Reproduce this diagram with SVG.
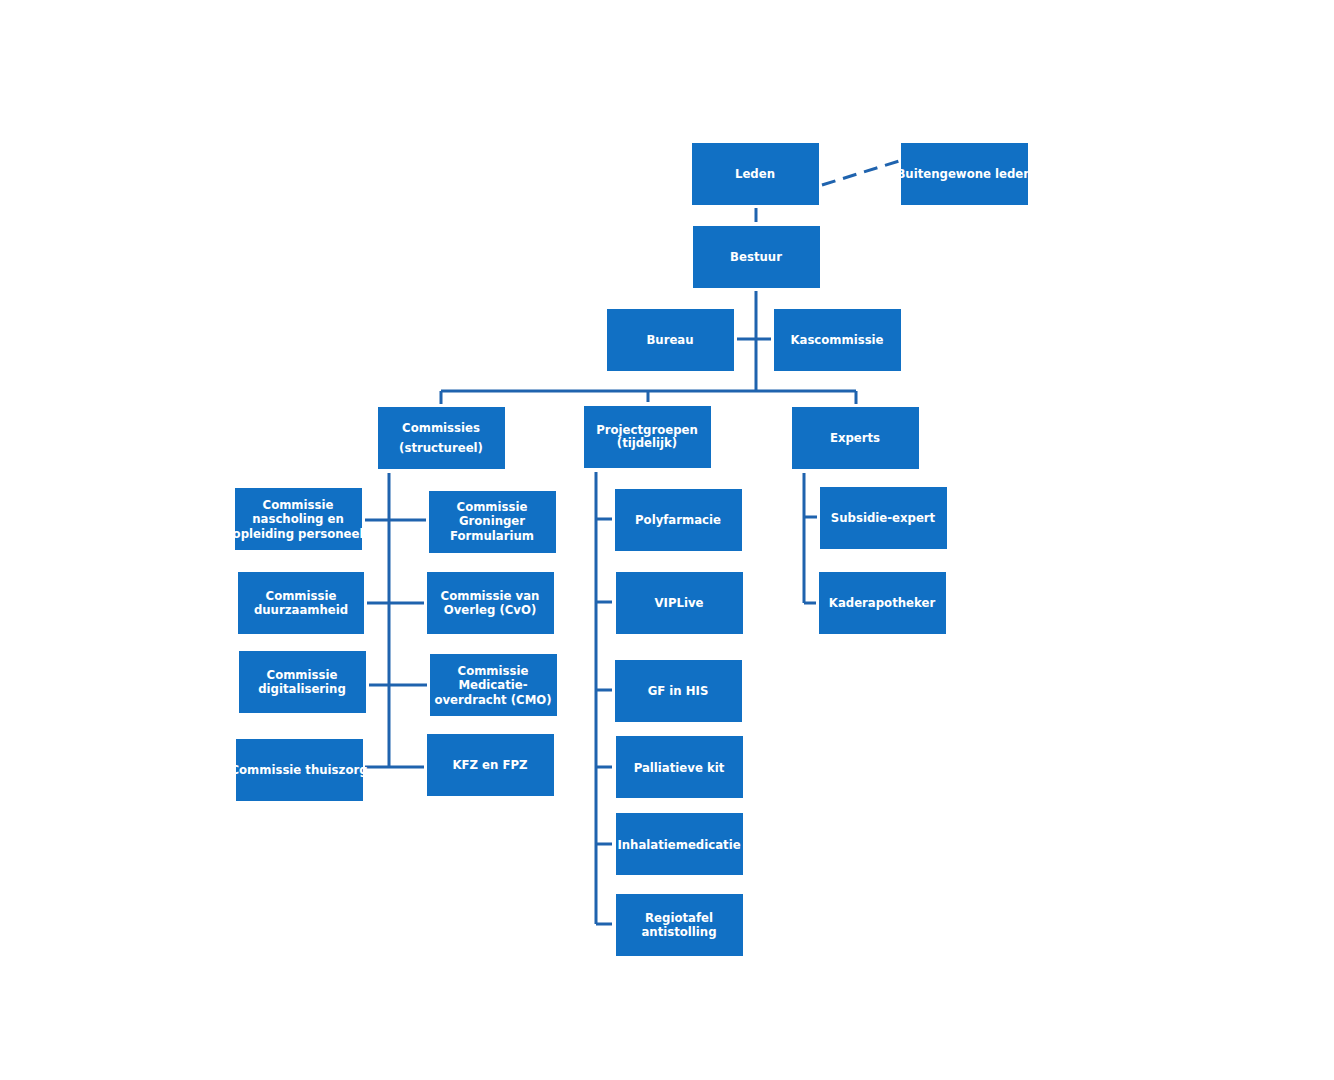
<svg xmlns="http://www.w3.org/2000/svg" width="1334" height="1080" viewBox="0 0 1334 1080">
<style>
.b{fill:#1170C4}
text{font-family:"DejaVu Sans Condensed","Liberation Sans",sans-serif;font-weight:bold;font-size:13px;fill:#fff;text-anchor:middle}
.c{stroke:#1F63AE;stroke-width:3;fill:none}
</style>
<rect width="1334" height="1080" fill="#fff"/>
<g id="connectors" class="c">
<path d="M756 208V222"/>
<path d="M822 185L899 161" stroke-dasharray="14 8"/>
<path d="M756 291V391M737 339H771M441 391H856M441 391V404M648 391V402M856 391V404"/>
<path d="M389 473V767M365 520H426M367 603H424M369 685H427M365 767H424"/>
<path d="M596 472V924M596 519H612M596 602H612M596 690H612M596 767H612M596 844H612M596 924H612"/>
<path d="M804 473V603M804 517H817M804 603H816"/>
</g>
<g id="leden"><rect class="b" x="692" y="143" width="127" height="62"/><text x="755" y="178">Leden</text></g>
<g id="buitengewone"><rect class="b" x="901" y="143" width="127" height="62"/><text x="964" y="178">Buitengewone leden</text></g>
<g id="bestuur"><rect class="b" x="693" y="226" width="127" height="62"/><text x="756" y="261">Bestuur</text></g>
<g id="bureau"><rect class="b" x="607" y="309" width="127" height="62"/><text x="670" y="344">Bureau</text></g>
<g id="kascommissie"><rect class="b" x="774" y="309" width="127" height="62"/><text x="837" y="344">Kascommissie</text></g>
<g id="commissies"><rect class="b" x="378" y="407" width="127" height="62"/><text x="441" y="432">Commissies</text><text x="441" y="452">(structureel)</text></g>
<g id="projectgroepen"><rect class="b" x="584" y="406" width="127" height="62"/><text x="647" y="434">Projectgroepen</text><text x="647" y="447">(tijdelijk)</text></g>
<g id="experts"><rect class="b" x="792" y="407" width="127" height="62"/><text x="855" y="442">Experts</text></g>
<g id="nascholing"><rect class="b" x="235" y="488" width="127" height="62"/><text x="298" y="509">Commissie</text><text x="298" y="523">nascholing en</text><text x="298" y="538">opleiding personeel</text></g>
<g id="duurzaamheid"><rect class="b" x="238" y="572" width="126" height="62"/><text x="301" y="600">Commissie</text><text x="301" y="614">duurzaamheid</text></g>
<g id="digitalisering"><rect class="b" x="239" y="651" width="127" height="62"/><text x="302" y="679">Commissie</text><text x="302" y="693">digitalisering</text></g>
<g id="thuiszorg"><rect class="b" x="236" y="739" width="127" height="62"/><text x="299" y="774">Commissie thuiszorg</text></g>
<g id="groninger"><rect class="b" x="429" y="491" width="127" height="62"/><text x="492" y="511">Commissie</text><text x="492" y="525">Groninger</text><text x="492" y="540">Formularium</text></g>
<g id="cvo"><rect class="b" x="427" y="572" width="127" height="62"/><text x="490" y="600">Commissie van</text><text x="490" y="614">Overleg (CvO)</text></g>
<g id="cmo"><rect class="b" x="430" y="654" width="127" height="62"/><text x="493" y="675">Commissie</text><text x="493" y="689">Medicatie-</text><text x="493" y="704">overdracht (CMO)</text></g>
<g id="kfz"><rect class="b" x="427" y="734" width="127" height="62"/><text x="490" y="769">KFZ en FPZ</text></g>
<g id="polyfarmacie"><rect class="b" x="615" y="489" width="127" height="62"/><text x="678" y="524">Polyfarmacie</text></g>
<g id="viplive"><rect class="b" x="616" y="572" width="127" height="62"/><text x="679" y="607">VIPLive</text></g>
<g id="gfinhis"><rect class="b" x="615" y="660" width="127" height="62"/><text x="678" y="695">GF in HIS</text></g>
<g id="palliatieve"><rect class="b" x="616" y="736" width="127" height="62"/><text x="679" y="772">Palliatieve kit</text></g>
<g id="inhalatie"><rect class="b" x="616" y="813" width="127" height="62"/><text x="679" y="849">Inhalatiemedicatie</text></g>
<g id="regiotafel"><rect class="b" x="616" y="894" width="127" height="62"/><text x="679" y="922">Regiotafel</text><text x="679" y="936">antistolling</text></g>
<g id="subsidie"><rect class="b" x="820" y="487" width="127" height="62"/><text x="883" y="522">Subsidie-expert</text></g>
<g id="kader"><rect class="b" x="819" y="572" width="127" height="62"/><text x="882" y="607">Kaderapotheker</text></g>
</svg>
